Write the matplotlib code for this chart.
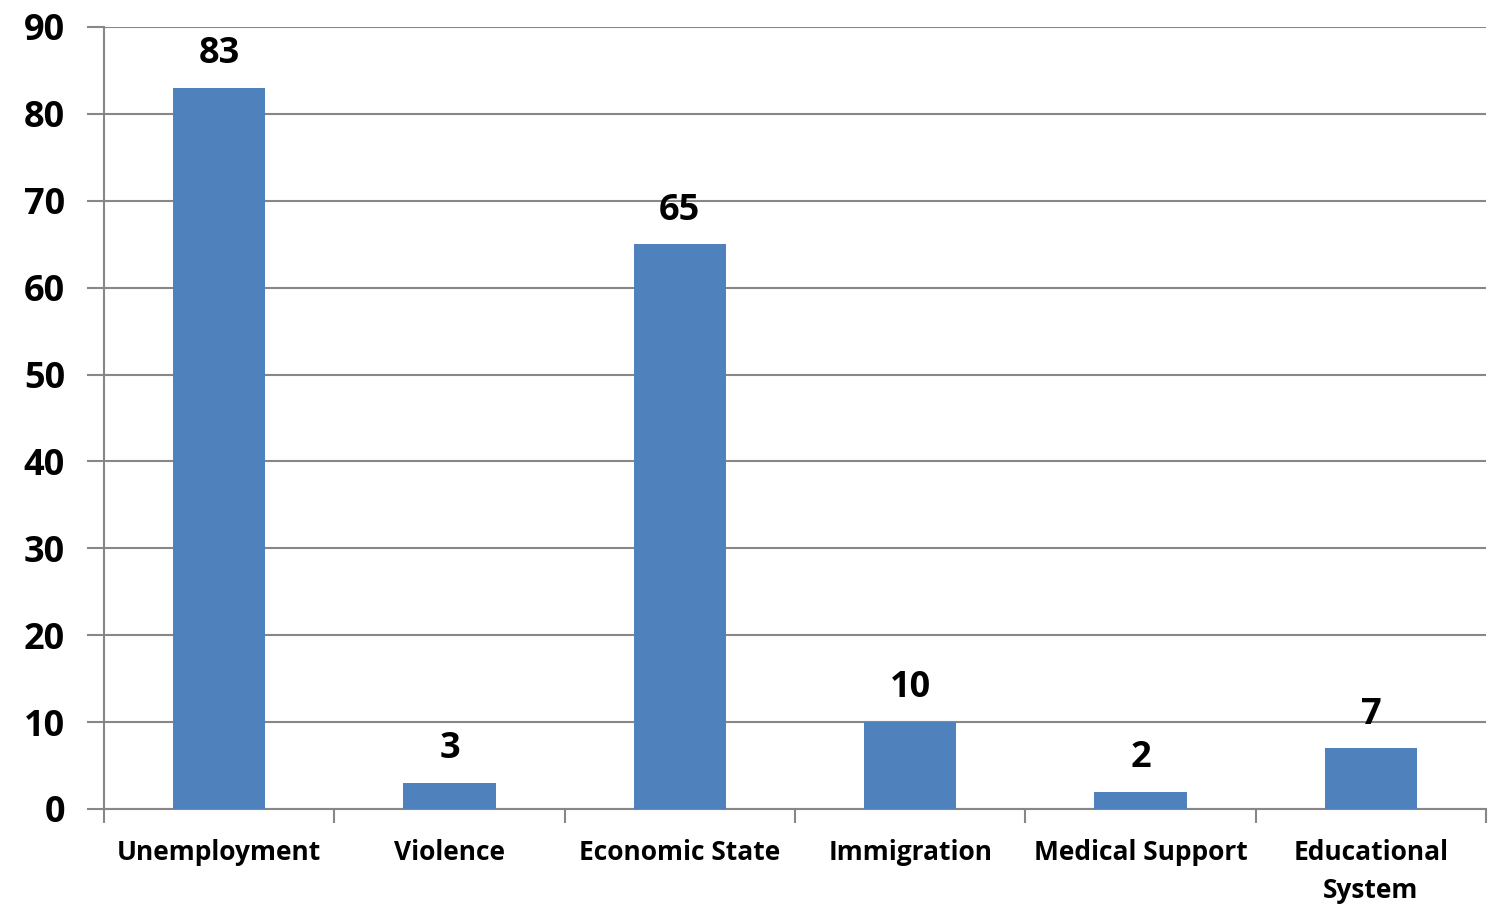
import matplotlib
matplotlib.use("Agg")
import matplotlib.pyplot as plt
import numpy as np

categories = ["Unemployment", "Violence", "Economic State", "Immigration",
              "Medical Support", "Educational\nSystem"]
values = [83, 3, 65, 10, 2, 7]
y_ticks = [0, 10, 20, 30, 40, 50, 60, 70, 80, 90]

plt.rcParams['font.family'] = ['Open Sans', 'DejaVu Sans']

fig = plt.figure(figsize=(14.88, 9.09), dpi=100)
ax = fig.add_axes([104 / 1488, 1 - 809 / 909, 1382 / 1488, 782 / 909])

x = np.arange(len(categories))
ax.bar(x, values, width=0.4, color='#4F81BD', zorder=3)

for xi, v in zip(x, values):
    ax.text(xi, v + 1.8, str(v), ha='center', va='bottom',
            fontsize=26, fontweight='bold', color='black')

ax.set_xlim(-0.5, len(categories) - 0.5)
ax.set_ylim(0, 90)
ax.set_yticks(y_ticks)
ax.set_yticklabels([str(t) for t in y_ticks], fontsize=26, fontweight='bold')
ax.yaxis.grid(True, color='#878787', linewidth=1.5, zorder=0)

# category labels, with ticks at the boundaries
ax.set_xticks(x)
ax.set_xticklabels(categories, fontsize=19, fontweight='bold', linespacing=1.52)
ax.tick_params(axis='x', length=0, pad=21.5)
ax.set_xticks(np.arange(len(categories) + 1) - 0.5, minor=True)
ax.tick_params(axis='x', which='minor', length=10, width=1.5, color='#878787')
ax.tick_params(axis='y', length=12, width=1.5, color='#878787', pad=16)

for side in ['top', 'right']:
    ax.spines[side].set_visible(False)
for side in ['left', 'bottom']:
    ax.spines[side].set_color('#878787')
    ax.spines[side].set_linewidth(1.5)

fig.savefig('out.png', dpi=100)
